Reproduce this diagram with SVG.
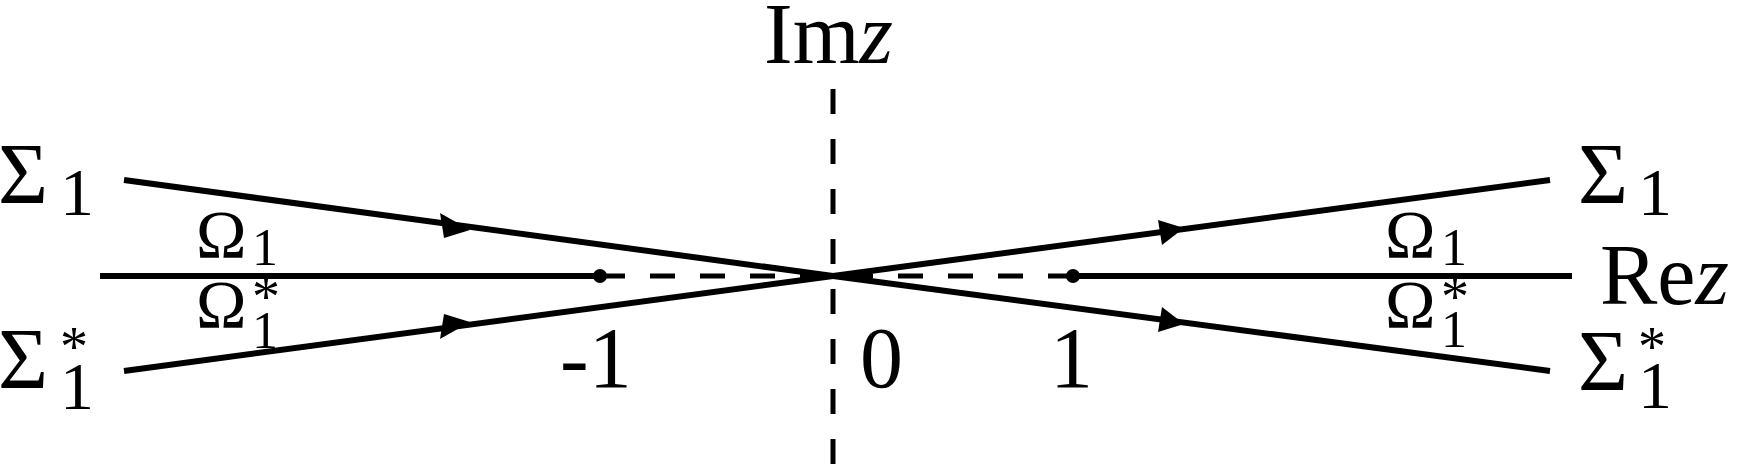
<svg xmlns="http://www.w3.org/2000/svg" width="1737" height="466" viewBox="0 0 1737 466">
<style>
.l{stroke:#000;stroke-width:6;fill:none}
.d{stroke:#000;stroke-width:5;fill:none;stroke-dasharray:25 25}
text{font-family:"Liberation Serif","DejaVu Serif",serif;fill:#000}
.b{font-size:86px}
.o{font-size:68px}
.s{font-size:68px}
.so{font-size:52px}
.st{font-size:56px}
.i{font-style:italic}
</style>
<g id="connectors">
<line class="d" x1="833" y1="89" x2="833" y2="466"/>
<line class="l" x1="100" y1="276" x2="600" y2="276"/>
<line class="d" x1="600" y1="276" x2="833" y2="276"/>
<line class="d" x1="1073" y1="276" x2="833" y2="276"/>
<line class="l" x1="1073" y1="276" x2="1572" y2="276"/>
<circle cx="600" cy="276" r="7"/>
<circle cx="1073" cy="276" r="7"/>
<line class="l" x1="124" y1="180" x2="833" y2="276"/>
<line class="l" x1="124" y1="371" x2="833" y2="276"/>
<line class="l" x1="833" y1="276" x2="1550" y2="180"/>
<line class="l" x1="833" y1="276" x2="1550" y2="371"/>
<path d="M440,213 L470,230 L444,238 Z"/>
<path d="M444,314 L470,322 L440,339 Z"/>
<path d="M1158,220 L1184,228 L1162,245 Z"/>
<path d="M1162,307 L1184,324 L1158,332 Z"/>
</g>
<g id="labels">
<text class="b" x="764" y="63">Im<tspan class="i">z</tspan></text>
<text class="b" x="1600" y="304">Re<tspan class="i">z</tspan></text>
<text class="b" x="-2" y="203">Σ</text><text class="s" x="60" y="215">1</text>
<text class="b" x="-2" y="388">Σ</text><text class="s" x="60" y="409">1</text><text class="st" x="60" y="366">*</text>
<text class="b" x="1578" y="203">Σ</text><text class="s" x="1638" y="215">1</text>
<text class="b" x="1578" y="390">Σ</text><text class="s" x="1638" y="408">1</text><text class="st" x="1638" y="366">*</text>
<text class="o" x="196" y="257">Ω</text><text class="so" x="252" y="265">1</text>
<text class="o" x="196" y="327">Ω</text><text class="so" x="252" y="348">1</text><text class="st" x="252" y="316">*</text>
<text class="o" x="1385" y="257">Ω</text><text class="so" x="1441" y="265">1</text>
<text class="o" x="1385" y="327">Ω</text><text class="so" x="1441" y="347">1</text><text class="st" x="1441" y="316">*</text>
<text class="b" x="560" y="387">-1</text>
<text class="b" x="860" y="387">0</text>
<text class="b" x="1050" y="387">1</text>
</g>
</svg>
